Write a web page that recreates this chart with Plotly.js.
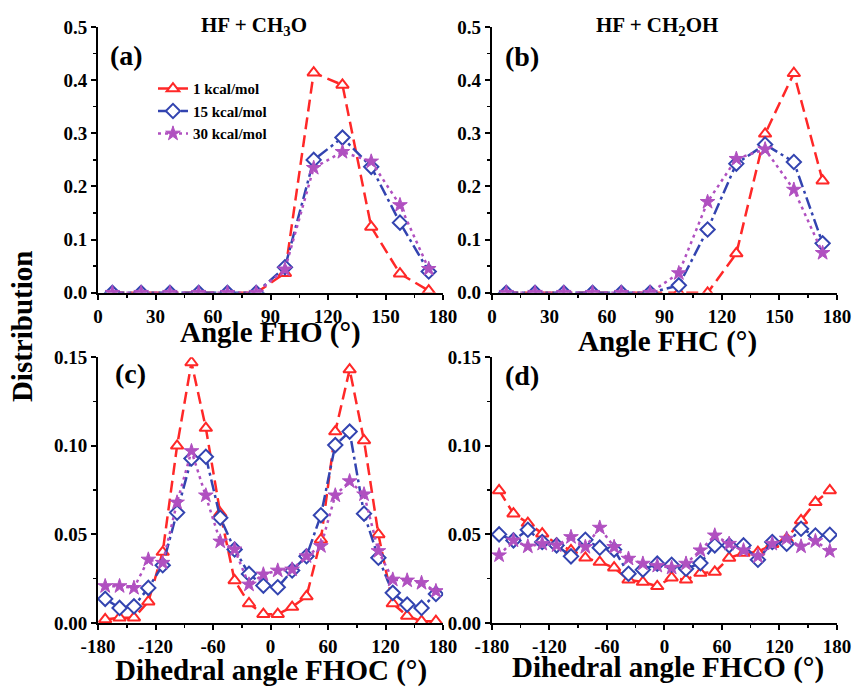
<!DOCTYPE html>
<html>
<head>
<meta charset="utf-8">
<script src="https://cdn.plot.ly/plotly-3.0.1.min.js"></script>
<style>html,body{margin:0;padding:0;background:#fff;}#chart{width:853px;height:692px;}</style>
</head>
<body>
<div id="chart"></div>
<script>
// ---- data ----
const seriesNames = ['1 kcal/mol', '15 kcal/mol', '30 kcal/mol'];
const angleX = [7.5, 22.5, 37.5, 52.5, 67.5, 82.5, 97.5, 112.5, 127.5, 142.5, 157.5, 172.5];
const fho_1  = [0, 0, 0, 0, 0, 0, 0.037, 0.414, 0.391, 0.124, 0.036, 0.004];
const fho_15 = [0, 0, 0, 0, 0, 0, 0.048, 0.250, 0.292, 0.237, 0.132, 0.040];
const fho_30 = [0, 0, 0, 0, 0, 0, 0.044, 0.235, 0.265, 0.247, 0.165, 0.045];
const fhc_1  = [0, 0, 0, 0, 0, 0, 0, 0, 0.074, 0.299, 0.413, 0.211];
const fhc_15 = [0, 0, 0, 0, 0, 0, 0.014, 0.119, 0.243, 0.279, 0.246, 0.093];
const fhc_30 = [0, 0, 0, 0, 0, 0, 0.037, 0.171, 0.252, 0.270, 0.194, 0.075];

const dihX = [-172.5, -157.5, -142.5, -127.5, -112.5, -97.5, -82.5, -67.5, -52.5, -37.5, -22.5, -7.5,
              7.5, 22.5, 37.5, 52.5, 67.5, 82.5, 97.5, 112.5, 127.5, 142.5, 157.5, 172.5];
const fhoc_1  = [0.002, 0.003, 0.003, 0.012, 0.040, 0.100, 0.147, 0.110, 0.062, 0.024, 0.011, 0.005,
                 0.005, 0.009, 0.015, 0.047, 0.108, 0.143, 0.103, 0.050, 0.011, 0.004, 0.001, 0.001];
const fhoc_15 = [0.0136, 0.0085, 0.0094, 0.0198, 0.0326, 0.0623, 0.0928, 0.0938, 0.0594, 0.0415, 0.0277, 0.0211,
                 0.0202, 0.0296, 0.0377, 0.0608, 0.1004, 0.1080, 0.0617, 0.0368, 0.0170, 0.0104, 0.0085, 0.0164];
const fhoc_30 = [0.0208, 0.0208, 0.0198, 0.0358, 0.0340, 0.0680, 0.0970, 0.0720, 0.0460, 0.0415, 0.0217, 0.0274,
                 0.0296, 0.0302, 0.0377, 0.0434, 0.0720, 0.0800, 0.0726, 0.0406, 0.0245, 0.0240, 0.0226, 0.0180];
const fhco_1  = [0.0748, 0.0617, 0.0564, 0.0504, 0.0447, 0.0410, 0.0368, 0.0344, 0.0312, 0.0244, 0.0231, 0.0207,
                 0.0256, 0.0244, 0.0282, 0.0288, 0.0367, 0.0395, 0.0400, 0.0445, 0.0476, 0.0579, 0.0682, 0.0748];
const fhco_15 = [0.0500, 0.0466, 0.0526, 0.0457, 0.0438, 0.0376, 0.0470, 0.0425, 0.0414, 0.0278, 0.0301, 0.0335,
                 0.0329, 0.0306, 0.0338, 0.0438, 0.0438, 0.0438, 0.0357, 0.0457, 0.0447, 0.0532, 0.0494, 0.0498];
const fhco_30 = [0.0382, 0.0466, 0.0432, 0.0447, 0.0438, 0.0485, 0.0429, 0.0538, 0.0429, 0.0363, 0.0335, 0.0323,
                 0.0312, 0.0335, 0.0410, 0.0494, 0.0447, 0.0410, 0.0376, 0.0447, 0.0476, 0.0432, 0.0462, 0.0406];

const angleTicks = [0, 30, 60, 90, 120, 150, 180];
const dihTickVals = [-180, -120, -60, 0, 60, 120, 180];
const dihTickText = ['-180', '-120', '-60', '0', '60', '120', '180'];

// ---- styles ----
const FONT = 'Liberation Serif, Times New Roman, serif';
const RED = '#FF2828', BLUE = '#3344B0', PURPLE = '#B050C0';
const styles = [
  {line: {color: RED, width: 2.5, dash: '12px,6px'},
   marker: {symbol: 'triangle-up', size: 11, color: 'white', line: {color: RED, width: 2}}},
  {line: {color: BLUE, width: 2.5, dash: '12px,4px,3px,4px'},
   marker: {symbol: 'diamond', size: 11, color: 'white', line: {color: BLUE, width: 2}}},
  {line: {color: PURPLE, width: 2.5, dash: '3px,4px'},
   marker: {symbol: 'star', size: 11, color: PURPLE, line: {color: PURPLE, width: 1}}}
];

const panels = [
  {x: angleX, ys: [fho_1, fho_15, fho_30], xa: 'x', ya: 'y', legend: true},
  {x: angleX, ys: [fhc_1, fhc_15, fhc_30], xa: 'x2', ya: 'y2', legend: false},
  {x: dihX, ys: [fhoc_1, fhoc_15, fhoc_30], xa: 'x3', ya: 'y3', legend: false},
  {x: dihX, ys: [fhco_1, fhco_15, fhco_30], xa: 'x4', ya: 'y4', legend: false}
];

const traces = [];
panels.forEach(p => {
  p.ys.forEach((y, i) => {
    traces.push({
      type: 'scatter', mode: 'lines+markers',
      x: p.x, y: y, xaxis: p.xa, yaxis: p.ya,
      name: '<b>' + seriesNames[i] + '</b>',
      showlegend: p.legend,
      line: styles[i].line, marker: styles[i].marker
    });
  });
});

const MINOR = {ticks: 'outside', ticklen: 3, tickwidth: 1.5, tickcolor: 'black', showgrid: false};
function baseAxis(extra) {
  return Object.assign({
    showline: true, linecolor: 'black', linewidth: 2,
    ticks: 'outside', ticklen: 5, tickwidth: 2, tickcolor: 'black',
    showgrid: false, zeroline: false, mirror: false,
    tickfont: {family: FONT, size: 19, color: 'black', weight: 'bold'}
  }, extra);
}
const L = [0, 0.467], R = [0.533, 1], T = [0.554, 1], B = [0, 0.446];

function angleAxis(dom, anchor) {
  return baseAxis({domain: dom, anchor: anchor, range: [0, 180], tickmode: 'array', tickvals: angleTicks,
    minor: Object.assign({dtick: 15, tick0: 0}, MINOR)});
}
function dihAxis(dom, anchor) {
  return baseAxis({domain: dom, anchor: anchor, range: [-180, 180], tickmode: 'array',
    tickvals: dihTickVals, ticktext: dihTickText,
    minor: Object.assign({dtick: 30, tick0: -180}, MINOR)});
}
function topY(dom, anchor) {
  return baseAxis({domain: dom, anchor: anchor, range: [0, 0.5], dtick: 0.1, tickformat: '.1f',
    minor: Object.assign({dtick: 0.05}, MINOR)});
}
function botY(dom, anchor) {
  return baseAxis({domain: dom, anchor: anchor, range: [0, 0.15], dtick: 0.05, tickformat: '.2f',
    minor: Object.assign({dtick: 0.025}, MINOR)});
}

function ann(text, x, y, size, opts) {
  return Object.assign({text: '<b>' + text + '</b>', x: x, y: y, xref: 'paper', yref: 'paper',
    showarrow: false, xanchor: 'center', yanchor: 'middle',
    font: {family: FONT, size: size, color: 'black'}}, opts || {});
}

const layout = {
  width: 853, height: 692,
  margin: {l: 98, r: 16, t: 27, b: 69},
  paper_bgcolor: 'white', plot_bgcolor: 'white',
  showlegend: true,
  legend: {x: 0.0744, y: 0.924, xanchor: 'left', yanchor: 'top', bgcolor: 'rgba(0,0,0,0)',
    font: {family: FONT, size: 15, color: 'black'}, tracegroupgap: 0},
  xaxis: angleAxis(L, 'y'), yaxis: topY(T, 'x'),
  xaxis2: angleAxis(R, 'y2'), yaxis2: topY(T, 'x2'),
  xaxis3: dihAxis(L, 'y3'), yaxis3: botY(B, 'x3'),
  xaxis4: dihAxis(R, 'y4'), yaxis4: botY(B, 'x4'),
  annotations: [
    ann('HF + CH<sub>3</sub>O', 0.211, 1.002, 21),
    ann('HF + CH<sub>2</sub>OH', 0.756, 1.002, 21),
    ann('(a)', 0.0135, 0.953, 28, {xanchor: 'left'}),
    ann('(b)', 0.548, 0.950, 28, {xanchor: 'left'}),
    ann('(c)', 0.020, 0.419, 28, {xanchor: 'left'}),
    ann('(d)', 0.548, 0.416, 28, {xanchor: 'left'}),
    ann('Angle FHO (°)', 0.234, 0.4866, 29),
    ann('Angle FHC (°)', 0.770, 0.4715, 29),
    ann('Dihedral angle FHOC (°)', 0.234, -0.0805, 29),
    ann('Dihedral angle FHCO (°)', 0.771, -0.0755, 29),
    ann('Distribution', -0.103, 0.498, 29, {textangle: -90})
  ]
};

Plotly.newPlot('chart', traces, layout, {staticPlot: true, displayModeBar: false});
</script>
</body>
</html>
